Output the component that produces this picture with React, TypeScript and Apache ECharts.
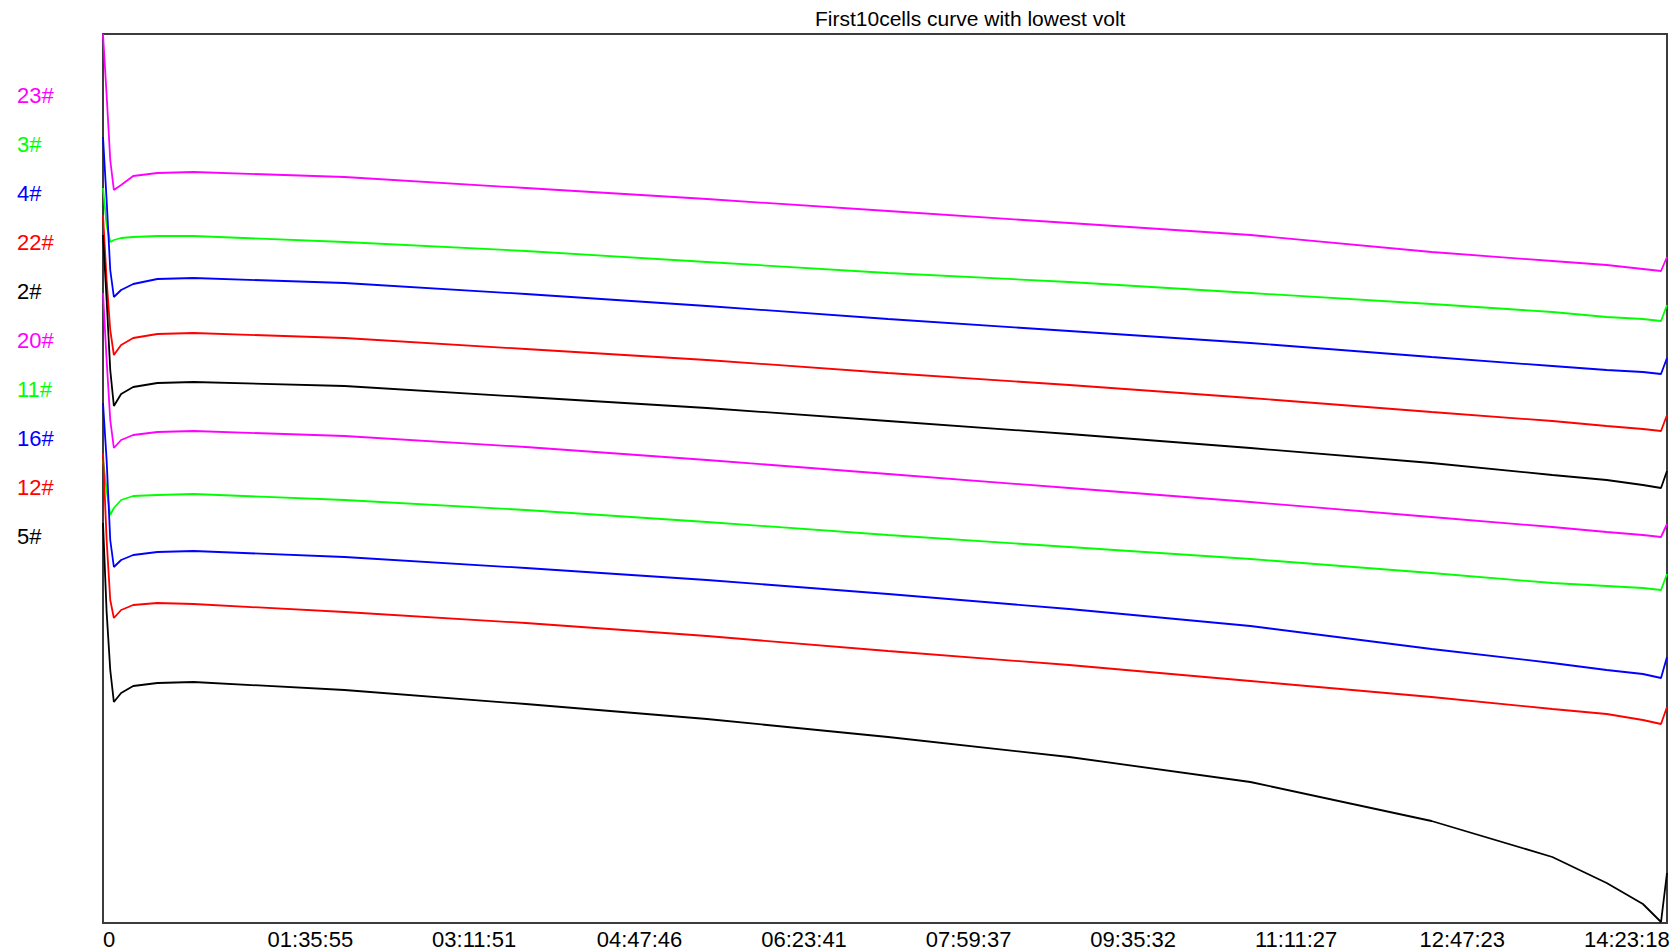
import React, { useEffect, useRef } from "react";
import * as echarts from "echarts";

const TITLE = "First10cells curve with lowest volt";

// elapsed time in seconds for every sample
const TIME_S = [0, 120, 240, 360, 600, 1000, 1800, 3000, 8000, 14000, 20000, 26000, 32000, 38000, 44000, 48000, 49800, 51000, 51600, 51798];
const TIME_MAX = 51798;

const TICK_LABELS = ["0", "01:35:55", "03:11:51", "04:47:46", "06:23:41", "07:59:37", "09:35:32", "11:11:27", "12:47:23", "14:23:18"];

const CELLS = ["23#", "3#", "4#", "22#", "2#", "20#", "11#", "16#", "12#", "5#"];
const COLORS = ["#ff00ff", "#00ff00", "#0000ff", "#ff0000", "#000000", "#ff00ff", "#00ff00", "#0000ff", "#ff0000", "#000000"];

// relative (offset) voltage readings of each cell
const V_23 = [889, 828, 763, 733, 738, 747, 750, 751, 746, 735, 724, 712, 700, 688, 671, 662, 658, 654, 652, 666];
const V_3 = [735, 698, 681, 683, 685, 686, 687, 687, 681, 672, 661, 650, 641, 630, 619, 611, 606, 604, 602, 618];
const V_4 = [786, 723, 653, 626, 633, 639, 644, 645, 640, 629, 617, 604, 592, 580, 566, 557, 553, 551, 549, 565];
const V_22 = [708, 643, 593, 568, 578, 585, 589, 590, 585, 574, 563, 550, 538, 525, 511, 502, 497, 494, 492, 508];
const V_2 = [688, 623, 553, 517, 529, 536, 540, 541, 537, 526, 515, 502, 489, 475, 460, 448, 443, 438, 435, 452];
const V_20 = [630, 563, 503, 475, 483, 488, 491, 492, 487, 476, 463, 449, 435, 421, 406, 396, 391, 388, 386, 399];
const V_11 = [463, 433, 408, 415, 423, 427, 428, 429, 423, 413, 401, 388, 376, 364, 350, 340, 337, 335, 333, 349];
const V_16 = [520, 463, 383, 356, 363, 368, 371, 372, 366, 355, 343, 329, 314, 297, 274, 260, 253, 249, 245, 266];
const V_12 = [470, 383, 323, 305, 313, 318, 320, 319, 311, 300, 287, 272, 258, 242, 226, 214, 209, 203, 199, 216];
const V_5 = [400, 311, 253, 221, 230, 237, 240, 241, 233, 219, 204, 186, 166, 141, 102, 66, 40, 19, 1, 50];

const VALUES = [V_23, V_3, V_4, V_22, V_2, V_20, V_11, V_16, V_12, V_5];
const Y_MIN = 0;
const Y_MAX = 889;

const FONT = "'Liberation Sans', Arial, sans-serif";

export default function App() {
  const ref = useRef<HTMLDivElement>(null);

  useEffect(() => {
    if (!ref.current) return;
    const chart = echarts.init(ref.current, undefined, { renderer: "svg" });

    const series = CELLS.map((name, i) => ({
      name,
      type: "line",
      xAxisIndex: 0,
      yAxisIndex: 0,
      showSymbol: false,
      symbol: "none",
      smooth: false,
      data: TIME_S.map((t, k) => [t, VALUES[i][k]]),
      lineStyle: { color: COLORS[i], width: 1.8 },
      itemStyle: { color: COLORS[i] },
    }));

    chart.setOption({
      animation: false,
      backgroundColor: "#ffffff",
      textStyle: { fontFamily: FONT },
      title: {
        text: TITLE,
        left: 810,
        top: 3,
        textStyle: { fontFamily: FONT, fontSize: 21, fontWeight: "normal", color: "#000" },
      },
      legend: {
        orient: "vertical",
        left: 7,
        top: 77,
        icon: "none",
        itemWidth: 0,
        itemHeight: 26,
        itemGap: 25,
        selectedMode: false,
        textStyle: { fontFamily: FONT, fontSize: 22 },
        data: CELLS.map((name, i) => ({ name, textStyle: { color: COLORS[i] } })),
      },
      grid: [
        { left: 103, top: 34, width: 1564, height: 889, show: true, borderColor: "#3c3c3c", borderWidth: 2, backgroundColor: "transparent" },
        { left: 103, top: 34, width: 1481, height: 889, show: false },
      ],
      xAxis: [
        {
          type: "value",
          gridIndex: 0,
          min: 0,
          max: TIME_MAX,
          axisLine: { show: false },
          axisTick: { show: false },
          axisLabel: { show: false },
          splitLine: { show: false },
        },
        {
          type: "category",
          gridIndex: 1,
          data: TICK_LABELS,
          boundaryGap: false,
          axisLine: { show: false },
          axisTick: { show: false },
          splitLine: { show: false },
          axisLabel: {
            interval: 0,
            align: "left",
            margin: 5,
            fontFamily: FONT,
            fontSize: 22,
            lineHeight: 22,
            color: "#000",
          },
        },
      ],
      yAxis: [
        { type: "value", gridIndex: 0, min: Y_MIN, max: Y_MAX, show: false, splitLine: { show: false } },
        { type: "value", gridIndex: 1, min: 0, max: 1, show: false, splitLine: { show: false } },
      ],
      series,
    });

    return () => chart.dispose();
  }, []);

  return (
    <div
      ref={ref}
      style={{ position: "absolute", left: 0, top: 0, width: 1677, height: 952, background: "#fff" }}
    />
  );
}
